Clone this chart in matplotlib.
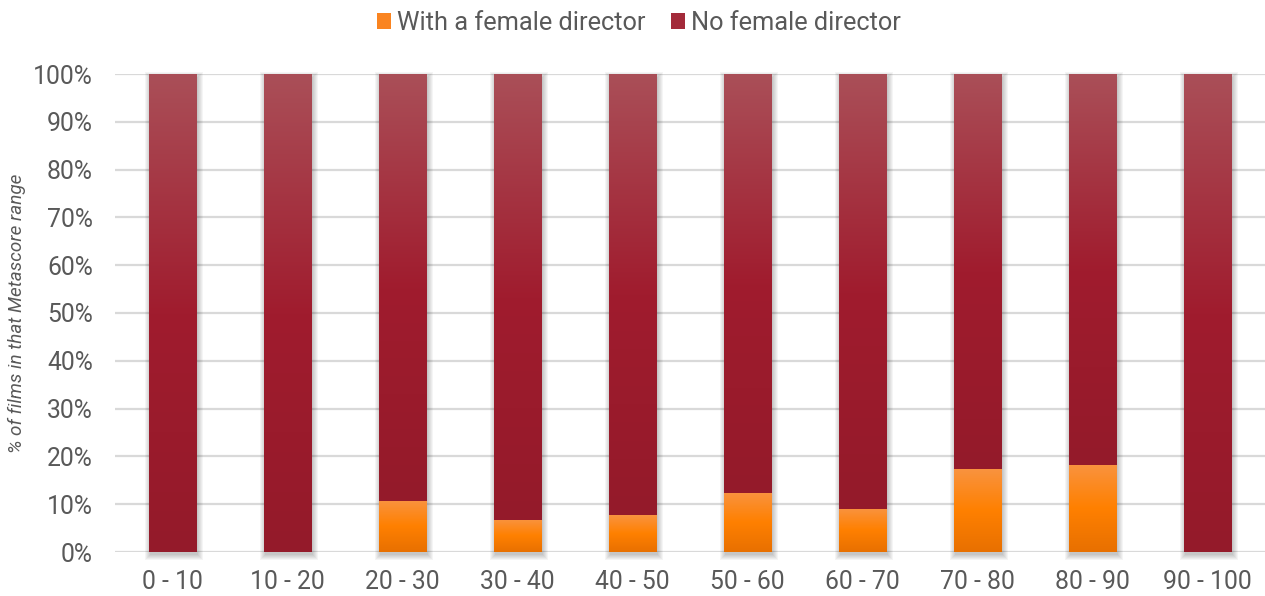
import numpy as np
import matplotlib
matplotlib.use("Agg")
import matplotlib.pyplot as plt
from matplotlib.colors import LinearSegmentedColormap
from matplotlib.patches import Rectangle

plt.rcParams['font.family'] = ['Roboto', 'DejaVu Sans']

# share of films with / without a female director, by Metascore range
ranges = ["0 - 10", "10 - 20", "20 - 30", "30 - 40", "40 - 50",
          "50 - 60", "60 - 70", "70 - 80", "80 - 90", "90 - 100"]
with_female = [0.0, 0.0, 10.7, 6.7, 7.7, 12.4, 9.1, 17.3, 18.3, 0.0]
no_female = [100 - v for v in with_female]

series_labels = ["With a female director", "No female director"]
yticks = list(range(0, 101, 10))

text_col = "#595959"
grid_col = "#d9d9d9"

# vertical gradients: light top, base colour mid, darker bottom
orange_cmap = LinearSegmentedColormap.from_list(
    "orange", ["#e87000", "#ff8000", "#f9933f"])
red_cmap = LinearSegmentedColormap.from_list(
    "red", ["#941a2a", "#a01c2e", "#aa4f58"])

W, H = 1265, 596
fig = plt.figure(figsize=(W / 100, H / 100), dpi=100)
ax_l, ax_r, ax_b, ax_t = 115, 1265, 552, 74
ax = fig.add_axes([ax_l / W, (H - ax_b) / H, (ax_r - ax_l) / W, (ax_b - ax_t) / H])

x = np.arange(len(ranges))
bar_w = 0.41

# pixel size in data units, used for the soft drop shadow
px_x = len(ranges) / (ax_r - ax_l)
px_y = 100 / (ax_b - ax_t)

grad = np.linspace(0, 1, 256).reshape(-1, 1)


def gradient_bar(xc, y0, y1, cmap):
    ax.imshow(grad, cmap=cmap, origin="lower", aspect="auto",
              extent=[xc - bar_w / 2, xc + bar_w / 2, y0, y1],
              interpolation="bicubic", zorder=3)


for xi, f, n in zip(x, with_female, no_female):
    # blurred shadow built from stacked translucent rectangles
    for k in range(1, 7):
        ax.add_patch(Rectangle(
            (xi - bar_w / 2 + (2 - k) * px_x, -(2 + k) * px_y),
            bar_w + (2 * k - 1) * px_x, 100 + (2 * k - 2) * px_y,
            facecolor="black", alpha=0.04, lw=0, zorder=2, clip_on=False))
    if f > 0:
        gradient_bar(xi, 0, f, orange_cmap)
    gradient_bar(xi, f, f + n, red_cmap)

ax.set_xlim(-0.5, len(ranges) - 0.5)
ax.set_ylim(0, 100)

ax.set_yticks(yticks)
ax.set_yticklabels([f"{t}%" for t in yticks])
ax.set_xticks(x)
ax.set_xticklabels(ranges)
ax.yaxis.grid(True, color=grid_col, lw=1.6, zorder=0)
ax.set_axisbelow(True)
ax.tick_params(length=0, labelsize=17.8, labelcolor=text_col)
ax.tick_params(axis="x", pad=13)
ax.tick_params(axis="y", pad=16)
for s in ax.spines.values():
    s.set_visible(False)

fig.text(17 / W, 1 - 313 / H, "% of films in that Metascore range", fontsize=13.6,
         style="italic", color=text_col, rotation=90, ha="center", va="center")

handles = [Rectangle((0, 0), 1, 1, facecolor="#fa8420"),
           Rectangle((0, 0), 1, 1, facecolor="#a32a3a")]
fig.legend(handles, series_labels, loc="center", bbox_to_anchor=(0.505, 1 - 23 / H),
           ncol=2, frameon=False, fontsize=18.3, labelcolor=text_col,
           handlelength=0.55, handleheight=0.55, handletextpad=0.25,
           columnspacing=1.0)

fig.savefig("out.png", dpi=100)
